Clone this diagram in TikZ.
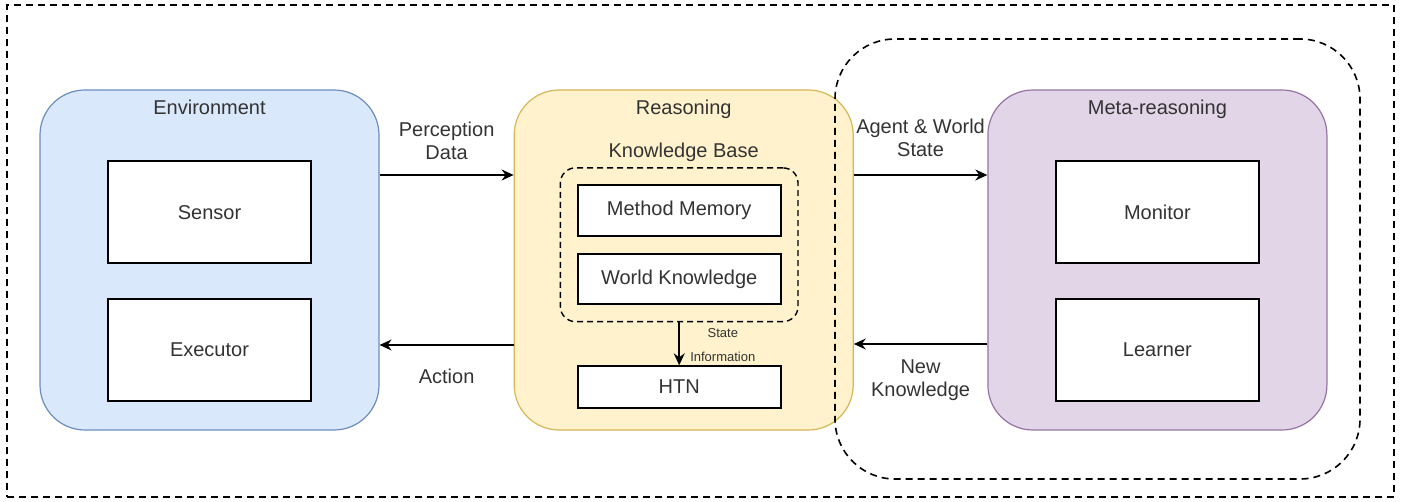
\documentclass[tikz,border=0pt]{standalone}
\usepackage{fontspec}
\setmainfont{Liberation Sans}
\usetikzlibrary{arrows.meta,positioning,calc,fit}
\definecolor{envfill}{HTML}{DAE8FC}
\definecolor{envline}{HTML}{6C8EBF}
\definecolor{rsnfill}{HTML}{FFF2CC}
\definecolor{rsnline}{HTML}{D6B656}
\definecolor{metafill}{HTML}{E1D5E7}
\definecolor{metaline}{HTML}{9673A6}
\definecolor{ink}{HTML}{333333}

\begin{document}
\begin{tikzpicture}[x=1pt,y=-1pt,font=\fontsize{20}{23}\selectfont,text=ink,
  panel/.style={rounded corners=45pt,line width=1.2pt,minimum width=339pt,minimum height=340pt,inner sep=0pt},
  part/.style={draw=black,line width=1.6pt,fill=white,minimum width=203pt,inner sep=0pt},
  heading/.style={anchor=base},
  lbl/.style={align=center},
  flow/.style={-{Stealth[length=12pt,width=11pt,inset=4pt]},line width=1.5pt},
  grp/.style={draw=black,line width=1.6pt,dash pattern=on 7pt off 5pt}]
\useasboundingbox (0,0) rectangle (1411,502);
\node[grp,minimum width=1387pt,minimum height=492pt] (frame) at (700.5,251) {};

\node[panel,draw=envline,fill=envfill] (env) at (209.5,260) {};
\node[panel,draw=rsnline,fill=rsnfill,right=134pt of env] (reason) {};
\node[panel,draw=metaline,fill=metafill,right=133.5pt of reason] (meta) {};

\node[heading] at ([yshift=-25pt]env.north) {Environment};
\node[part,minimum height=102pt,below=71pt of env.north] (sensor) {Sensor};
\node[part,minimum height=102pt,below=34pt of sensor] (executor) {Executor};

\node[heading] at ([yshift=-25pt]reason.north) {Reasoning};
\node[heading] at ([yshift=-68pt]reason.north) {Knowledge Base};
\node[part,minimum height=51pt,below=95pt of reason.north,xshift=-4.5pt] (method) {Method Memory};
\node[part,minimum height=50pt,below=16.5pt of method] (worldk) {World Knowledge};
\node[fit=(method)(worldk),inner sep=16.5pt,draw=black,rounded corners=15pt,line width=1.4pt,dash pattern=on 6pt off 4pt] (kb) {};
\node[part,minimum height=42pt,below=43pt of kb] (htn) {HTN};
\draw[flow] (kb.south) -- (htn.north) node[midway,anchor=west,xshift=7pt,yshift=-1pt,lbl,font=\fontsize{13}{24}\selectfont] {State\\Information};

\node[heading] at ([yshift=-25pt]meta.north) {Meta-reasoning};
\node[part,minimum height=102pt,below=71pt of meta.north] (monitor) {Monitor};
\node[part,minimum height=102pt,below=34pt of monitor] (learner) {Learner};

\draw[flow] ([yshift=85pt]env.east) -- ([yshift=85pt]reason.west) node[midway,yshift=34pt,lbl] {Perception\\Data};
\draw[flow] ([yshift=-85pt]reason.west) -- ([yshift=-85pt]env.east) node[midway,yshift=-31pt] {Action};
\draw[flow] ([yshift=85pt]reason.east) -- ([yshift=85pt]meta.west) node[midway,yshift=37pt,lbl] {Agent \& World\\State};
\draw[flow] ([yshift=-84pt]meta.west) -- ([yshift=-84pt]reason.east) node[midway,yshift=-36pt,lbl] {New\\Knowledge};

\node[grp,rounded corners=60pt,minimum width=525pt,minimum height=440pt] (metagrp) at (1097.5,259) {};
\end{tikzpicture}
\end{document}
